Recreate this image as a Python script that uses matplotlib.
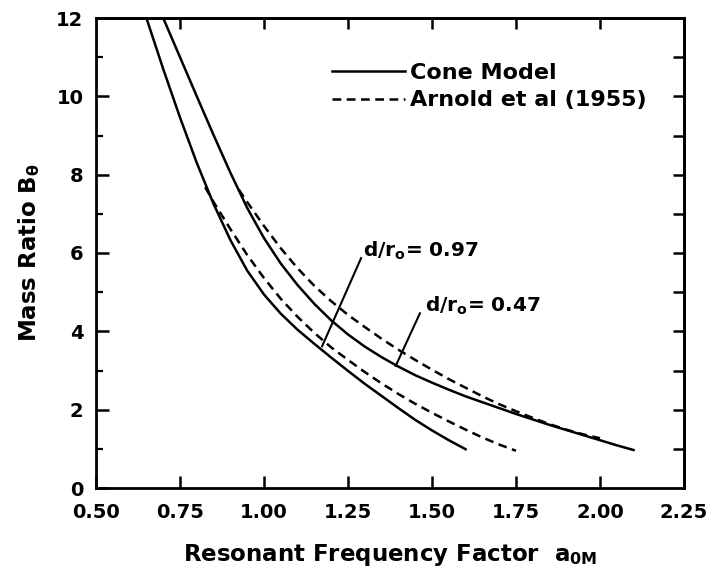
import matplotlib
matplotlib.use("Agg")
import matplotlib.pyplot as plt
from matplotlib.ticker import MultipleLocator, FormatStrFormatter

plt.rcParams['font.family'] = ['DejaVu Sans']
plt.rcParams['font.weight'] = 'bold'
plt.rcParams['axes.labelweight'] = 'bold'
plt.rcParams['mathtext.fontset'] = 'custom'
plt.rcParams['mathtext.rm'] = 'DejaVu Sans:bold'
plt.rcParams['mathtext.it'] = 'DejaVu Sans:bold'
plt.rcParams['mathtext.bf'] = 'DejaVu Sans:bold'

# ---- data ----
cone_097_a = [0.65, 0.70, 0.75, 0.80, 0.85, 0.90, 0.95, 1.00, 1.05, 1.10,
              1.15, 1.20, 1.25, 1.30, 1.35, 1.40, 1.45, 1.50, 1.55, 1.60]
cone_097_B = [12.0, 10.70, 9.46, 8.30, 7.25, 6.33, 5.55, 4.94, 4.45, 4.04,
              3.68, 3.33, 2.99, 2.66, 2.35, 2.04, 1.74, 1.47, 1.22, 0.99]

arnold_097_a = [0.825, 0.85, 0.90, 0.95, 1.00, 1.05, 1.10, 1.15, 1.20, 1.25, 1.30,
                1.35, 1.40, 1.45, 1.50, 1.55, 1.60, 1.65, 1.70, 1.75]
arnold_097_B = [7.68, 7.30, 6.61, 5.95, 5.36, 4.83, 4.37, 3.96, 3.59, 3.27, 2.96,
                2.67, 2.40, 2.15, 1.92, 1.70, 1.49, 1.29, 1.11, 0.95]

cone_047_a = [0.70, 0.75, 0.80, 0.85, 0.90, 0.95, 1.00, 1.05, 1.10, 1.15,
              1.20, 1.25, 1.30, 1.35, 1.40, 1.45, 1.50, 1.55, 1.60, 1.65,
              1.70, 1.75, 1.80, 1.85, 1.90, 1.95, 2.00, 2.05, 2.10]
cone_047_B = [12.0, 11.0, 10.0, 9.01, 8.05, 7.15, 6.38, 5.73, 5.18, 4.70,
              4.28, 3.92, 3.61, 3.34, 3.10, 2.88, 2.69, 2.51, 2.34, 2.19,
              2.04, 1.89, 1.75, 1.61, 1.48, 1.35, 1.22, 1.09, 0.97]

arnold_047_a = [0.925, 0.95, 1.00, 1.05, 1.10, 1.15, 1.20, 1.25, 1.30, 1.35, 1.40, 1.45,
                1.50, 1.55, 1.60, 1.65, 1.70, 1.75, 1.80, 1.85, 1.90, 1.95, 2.00]
arnold_047_B = [7.62, 7.30, 6.69, 6.12, 5.61, 5.16, 4.77, 4.42, 4.11, 3.81, 3.53, 3.27,
                3.02, 2.78, 2.56, 2.34, 2.14, 1.96, 1.79, 1.63, 1.49, 1.37, 1.27]

labels_legend = ['Cone Model', 'Arnold et al (1955)']
x_ticks = [0.50, 0.75, 1.00, 1.25, 1.50, 1.75, 2.00, 2.25]
y_ticks = [0, 2, 4, 6, 8, 10, 12]

ann_text = [r'd/r$_\mathregular{o}$= 0.97', r'd/r$_\mathregular{o}$= 0.47']
ann_text_xy = [(1.295, 5.90), (1.479, 4.50)]
ann_line_start = [(1.289, 5.87), (1.464, 4.46)]
ann_line_end = [(1.173, 3.62), (1.392, 3.12)]

# ---- figure ----
fig = plt.figure(figsize=(7.16, 5.88), dpi=100)
ax = fig.add_axes([96/716, 1-488/588, 588/716, 470/588])

lw = 1.8
dash = (3.5, 2.2)
l1, = ax.plot(cone_097_a, cone_097_B, color='black', lw=lw, label=labels_legend[0])
l2, = ax.plot(arnold_097_a, arnold_097_B, color='black', lw=lw, dashes=dash, label=labels_legend[1])
ax.plot(cone_047_a, cone_047_B, color='black', lw=lw)
ax.plot(arnold_047_a, arnold_047_B, color='black', lw=lw, dashes=dash)

for t, txy, s, e in zip(ann_text, ann_text_xy, ann_line_start, ann_line_end):
    ax.plot([s[0], e[0]], [s[1], e[1]], color='black', lw=1.5)
    ax.text(txy[0], txy[1], t, fontsize=14.5, va='baseline', ha='left')

ax.set_xlim(0.5, 2.25)
ax.set_ylim(0, 12)
ax.set_xticks(x_ticks)
ax.set_yticks(y_ticks)
ax.xaxis.set_major_formatter(FormatStrFormatter('%.2f'))
ax.yaxis.set_minor_locator(MultipleLocator(1))
ax.tick_params(axis='both', which='major', direction='in', length=9, width=1.8,
               labelsize=14, top=False, right=False)
ax.tick_params(axis='x', which='major', pad=11)
ax.tick_params(axis='y', which='major', pad=9)
ax.tick_params(axis='y', which='minor', direction='in', length=5, width=1.6, right=False)

top = ax.secondary_xaxis('top')
top.set_xticks(x_ticks[1:-1])
top.tick_params(direction='in', length=8, width=1.8, labeltop=False)
right = ax.secondary_yaxis('right')
right.set_yticks(list(range(1, 12)))
right.tick_params(direction='in', length=8, width=1.8, labelright=False)
for sp in list(ax.spines.values()) + [top.spines['top'], right.spines['right']]:
    sp.set_linewidth(2.0)

ax.set_xlabel(r'Resonant Frequency Factor  a$_\mathregular{0M}$', fontsize=16.5, labelpad=14)
ax.set_ylabel(r'Mass Ratio B$_\mathregular{θ}$', fontsize=16.5, labelpad=10)

ax.legend(handles=[l1, l2], loc='upper left', bbox_to_anchor=(0.401, 0.905),
          frameon=False, fontsize=16, handlelength=3.3, handletextpad=0.2,
          borderpad=0, borderaxespad=0, labelspacing=0.35)

fig.savefig('out.png', dpi=100)
